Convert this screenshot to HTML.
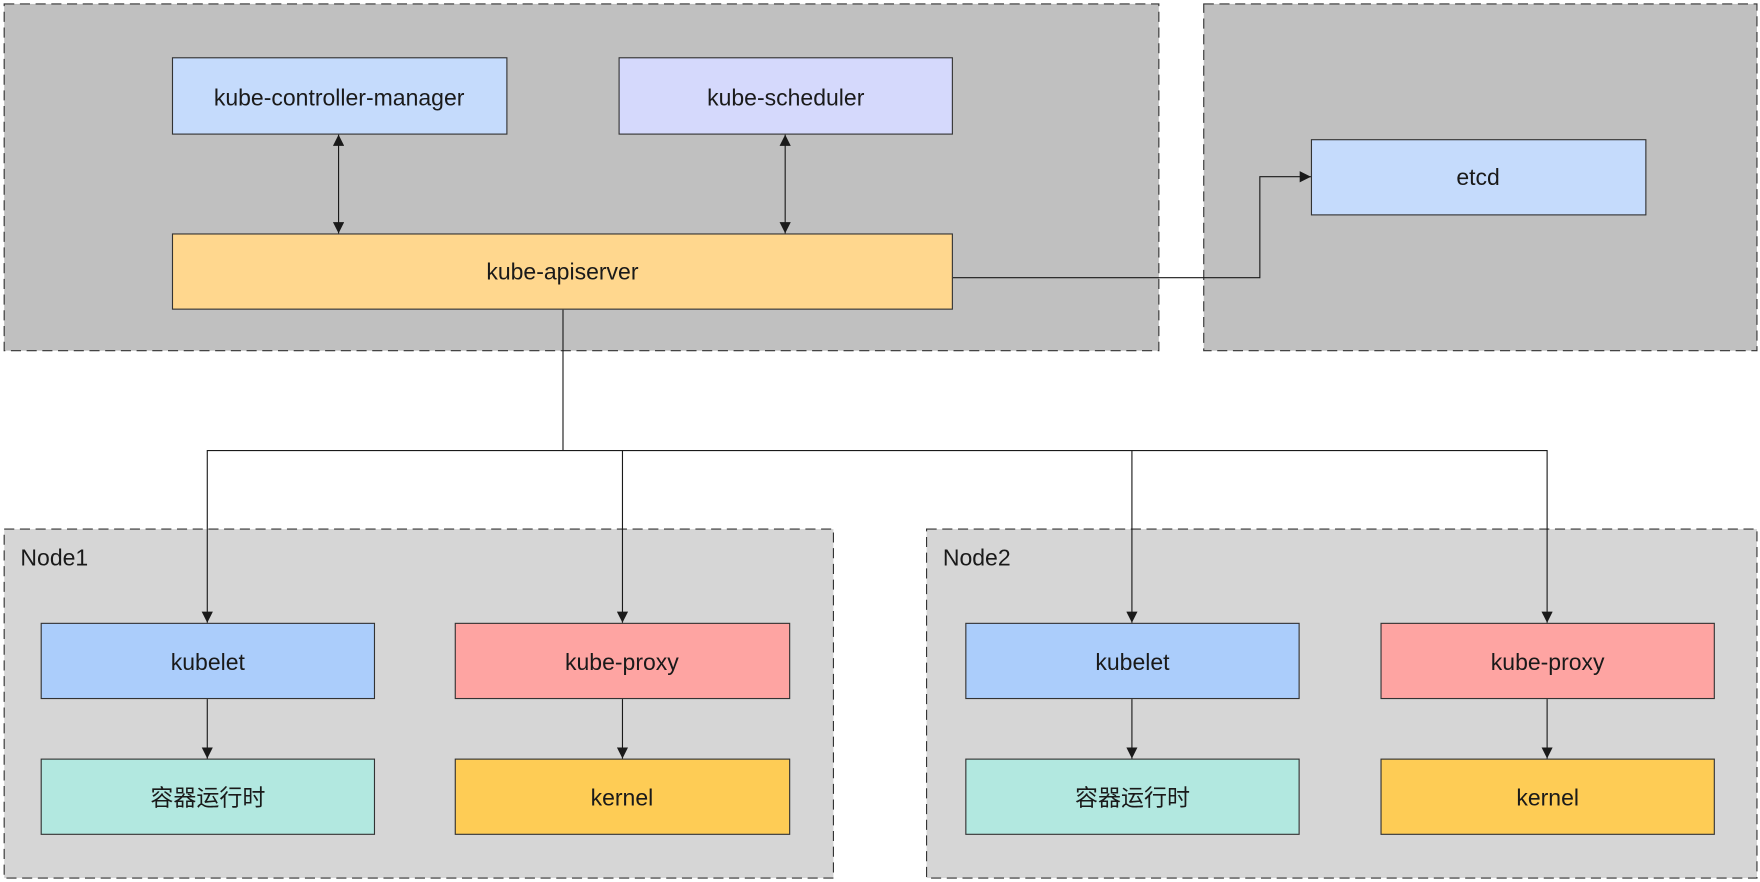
<!DOCTYPE html>
<html><head><meta charset="utf-8"><style>
html,body{margin:0;padding:0;background:#fff;}
svg{display:block;}
text{font-family:"Liberation Sans","Noto Sans CJK SC",sans-serif;font-size:20.5px;fill:#1a1a1a;}
</style></head><body>
<svg width="1760" height="882" viewBox="0 0 1568 786" xmlns="http://www.w3.org/2000/svg">
<defs>
<marker id="a" viewBox="0 0 10 10" refX="10" refY="5" markerWidth="10" markerHeight="10" markerUnits="userSpaceOnUse" orient="auto-start-reverse"><path d="M0,0L10,5L0,10z" fill="#1a1a1a"/></marker>
</defs>
<rect x="0" y="0" width="1568" height="786" fill="#fff"/>
<g stroke="#333" stroke-width="1" stroke-dasharray="9,5">
<rect x="3.5" y="3.5" width="1029" height="309" fill="#c0c0c0"/>
<rect x="1072.5" y="3.5" width="493" height="309" fill="#c0c0c0"/>
<rect x="3.5" y="471.5" width="739" height="311" fill="#d6d6d6"/>
<rect x="825.5" y="471.5" width="740" height="311" fill="#d6d6d6"/>
</g>
<g stroke="#333" stroke-width="1">
<rect x="153.5" y="51.5" width="298" height="68" fill="#c5dbfc"/>
<rect x="551.5" y="51.5" width="297" height="68" fill="#d5d9fc"/>
<rect x="153.5" y="208.5" width="695" height="67" fill="#ffd78e"/>
<rect x="1168.5" y="124.5" width="298" height="67" fill="#c5dbfc"/>
<rect x="36.5" y="555.5" width="297" height="67" fill="#abcdfb"/>
<rect x="405.5" y="555.5" width="298" height="67" fill="#fea4a2"/>
<rect x="36.5" y="676.5" width="297" height="67" fill="#b2e8e0"/>
<rect x="405.5" y="676.5" width="298" height="67" fill="#fecc55"/>
<rect x="860.5" y="555.5" width="297" height="67" fill="#abcdfb"/>
<rect x="1230.5" y="555.5" width="297" height="67" fill="#fea4a2"/>
<rect x="860.5" y="676.5" width="297" height="67" fill="#b2e8e0"/>
<rect x="1230.5" y="676.5" width="297" height="67" fill="#fecc55"/>
</g>
<g stroke="#1a1a1a" stroke-width="1" fill="none">
<line x1="301.5" y1="120" x2="301.5" y2="208" marker-start="url(#a)" marker-end="url(#a)"/>
<line x1="699.5" y1="120" x2="699.5" y2="208" marker-start="url(#a)" marker-end="url(#a)"/>
<polyline points="849,247.5 1122.5,247.5 1122.5,157.5 1168,157.5" marker-end="url(#a)"/>
<polyline points="501.5,276 501.5,401.5"/>
<line x1="184.5" y1="401.5" x2="1378.5" y2="401.5"/>
<line x1="184.5" y1="401" x2="184.5" y2="555" marker-end="url(#a)"/>
<line x1="554.5" y1="401" x2="554.5" y2="555" marker-end="url(#a)"/>
<line x1="1008.5" y1="401" x2="1008.5" y2="555" marker-end="url(#a)"/>
<line x1="1378.5" y1="401" x2="1378.5" y2="555" marker-end="url(#a)"/>
<line x1="184.5" y1="623" x2="184.5" y2="676" marker-end="url(#a)"/>
<line x1="554.5" y1="623" x2="554.5" y2="676" marker-end="url(#a)"/>
<line x1="1008.5" y1="623" x2="1008.5" y2="676" marker-end="url(#a)"/>
<line x1="1378.5" y1="623" x2="1378.5" y2="676" marker-end="url(#a)"/>
</g>
<g text-anchor="middle">
<text x="302" y="94">kube-controller-manager</text>
<text x="700" y="94">kube-scheduler</text>
<text x="501" y="249">kube-apiserver</text>
<text x="1317" y="165">etcd</text>
<text x="185" y="597">kubelet</text>
<text x="554" y="597">kube-proxy</text>
<text x="185" y="718">容器运行时</text>
<text x="554" y="718">kernel</text>
<text x="1009" y="597">kubelet</text>
<text x="1379" y="597">kube-proxy</text>
<text x="1009" y="718">容器运行时</text>
<text x="1379" y="718">kernel</text>
</g>
<text x="18" y="504">Node1</text>
<text x="840" y="504">Node2</text>
</svg>
</body></html>
